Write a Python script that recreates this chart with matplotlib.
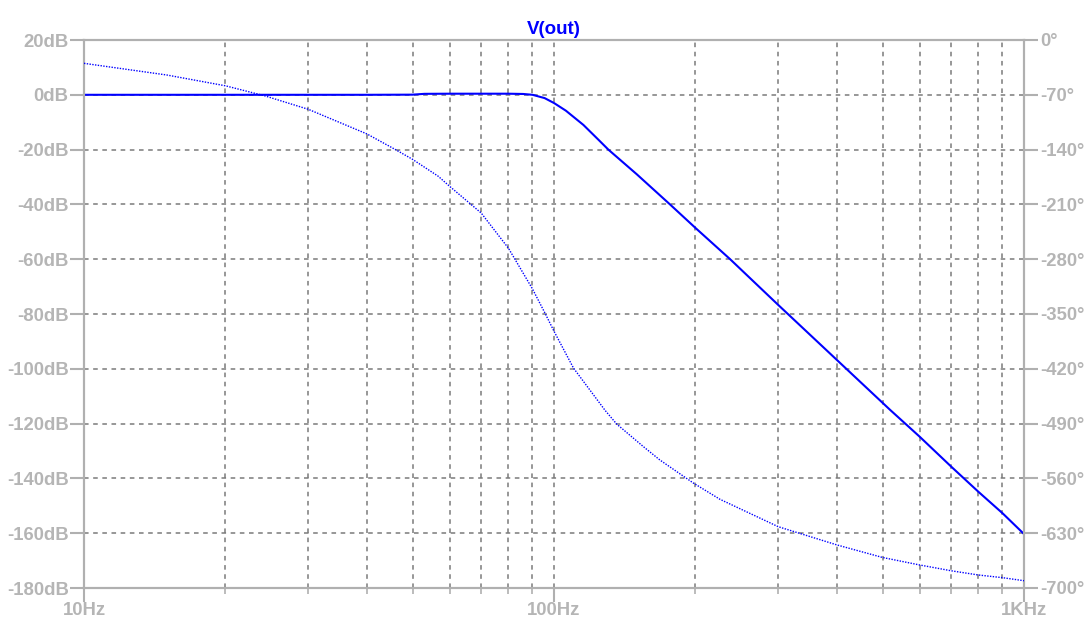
import numpy as np
import matplotlib.pyplot as plt
from matplotlib.ticker import FixedLocator, NullFormatter

# magnitude of V(out), dB
freq_mag = [10, 20, 30, 40, 50, 53, 60, 70, 80, 86, 90, 95.5, 100, 106, 115.5,
            125, 130.5, 150, 176.5, 200, 237, 300, 400, 519, 600, 700, 800,
            900, 1000]
mag_db = [0, 0, 0, 0, 0.05, 0.35, 0.4, 0.4, 0.4, 0.3, 0, -1.2, -3.0, -5.8,
          -11.0, -16.8, -20.0, -29.0, -40.0, -48.6, -60.0, -76.7, -96.8,
          -115.0, -124.8, -135.7, -144.9, -152.7, -160.3]

# phase of V(out), degrees
freq_phase = [10, 15, 20, 24.3, 30, 40, 45.9, 50, 56.7, 60, 70, 80, 90,
              95.7, 100, 110, 128.4, 135.9, 155, 168, 198, 225.5, 300, 400,
              500, 600, 700, 800, 900, 1000]
phase_deg = [-29.8, -44.7, -58.5, -71.5, -88.5, -120, -139.7, -152.4, -174,
             -187, -221, -266, -318, -349, -372, -419, -473, -490.5, -519.5,
             -536.5, -566, -586.7, -621.7, -645, -661, -670.6, -678, -683.4,
             -686.8, -690.7]

db_ticks = list(range(20, -181, -20))
deg_ticks = list(range(0, -701, -70))
x_major = [10, 100, 1000]
x_labels = ['10Hz', '100Hz', '1KHz']

plt.rcParams['font.family'] = ['Liberation Sans', 'DejaVu Sans']
lbl = '#b5b5b5'
frame = '#b0b0b0'
grid_col = '#7a7a7a'
fs = 13.3

fig = plt.figure(figsize=(10.86, 6.19), dpi=100)
ax = fig.add_axes([84 / 1086, 1 - 588 / 619, 940 / 1086, 548 / 619])
ax2 = ax.twinx()

ax.semilogx(freq_mag, mag_db, color='#0000ff', lw=1.5, zorder=3)
ax2.semilogx(freq_phase, phase_deg, color='#0000ff', lw=1.0,
             linestyle=(0, (1, 1)), zorder=3)

ax.set_xlim(10, 1000)
ax.set_ylim(-180, 20)
ax2.set_ylim(-700, 0)

minor = [m * d for d in (10, 100) for m in range(2, 10)]
ax.xaxis.set_major_locator(FixedLocator(x_major))
ax.xaxis.set_minor_locator(FixedLocator(minor))
ax.xaxis.set_minor_formatter(NullFormatter())
ax.set_xticklabels(x_labels)
ax.set_yticks(db_ticks)
ax.set_yticklabels(['%ddB' % v for v in db_ticks])
ax2.set_yticks(deg_ticks)
ax2.set_yticklabels(['%d°' % v for v in deg_ticks])

# dashed grid
for f in [100] + minor:
    ax.axvline(f, color=grid_col, lw=1.1, linestyle=(0, (3, 3)), zorder=1)
for v in db_ticks[1:-1]:
    ax.axhline(v, color=grid_col, lw=1.1, linestyle=(0, (3, 3)), zorder=1)

for a in (ax, ax2):
    for s in a.spines.values():
        s.set_color(frame)
        s.set_linewidth(1.5)

ax.tick_params(axis='y', colors=frame, labelcolor=lbl, labelsize=fs,
               length=10, width=1.5, pad=1)
ax2.tick_params(axis='y', colors=frame, labelcolor=lbl, labelsize=fs,
                length=10, width=1.5, pad=2)
ax.tick_params(axis='x', which='major', colors=frame, labelcolor=lbl,
               labelsize=fs, length=10, width=1.5, pad=0)
ax.tick_params(axis='x', which='minor', colors=frame, length=4, width=1.2)
for t in ax.get_yticklabels() + ax2.get_yticklabels() + ax.get_xticklabels():
    t.set_fontweight('bold')

ax.set_title('V(out)', color='#0000ff', fontsize=13.5, fontweight='bold',
             pad=4)

fig.savefig('out.png', dpi=100)
